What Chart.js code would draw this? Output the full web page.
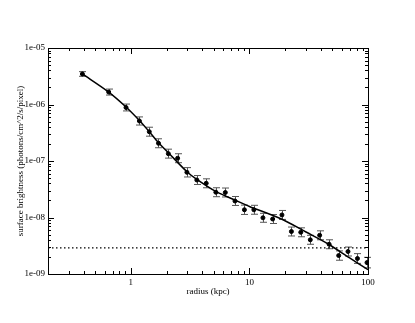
<!DOCTYPE html>
<html>
<head>
<meta charset="utf-8">
<script src="https://cdn.jsdelivr.net/npm/chart.js@4.4.1/dist/chart.umd.min.js"></script>
<style>
  html, body { margin: 0; padding: 0; background: #fff; }
  #wrap { width: 415px; height: 323px; }
</style>
</head>
<body>
<div id="wrap"><canvas id="sbChart" width="415" height="323"></canvas></div>
<script>
// radial surface brightness profile
const radius = [0.39, 0.65, 0.91, 1.18, 1.43, 1.71, 2.07, 2.48, 2.97, 3.6, 4.32, 5.21, 6.26, 7.55,
                9.07, 10.9, 13.0, 15.7, 18.8, 22.6, 27.1, 32.6, 39.1, 47.0, 56.6, 67.8, 81.5, 98.1];
const brightness = [3.47e-6, 1.66e-6, 8.85e-7, 5.11e-7, 3.30e-7, 2.06e-7, 1.35e-7, 1.12e-7, 6.31e-8,
                    4.61e-8, 4.03e-8, 2.80e-8, 2.77e-8, 1.96e-8, 1.37e-8, 1.37e-8, 9.88e-9, 9.40e-9,
                    1.11e-8, 5.65e-9, 5.47e-9, 4.03e-9, 4.84e-9, 3.36e-9, 2.12e-9, 2.50e-9, 1.88e-9, 1.59e-9];
// relative error on each point
const relErr = [0.1, 0.13, 0.15, 0.18, 0.2, 0.2, 0.2, 0.2, 0.21, 0.2, 0.2, 0.2, 0.2, 0.2,
                0.21, 0.2, 0.2, 0.2, 0.2, 0.2, 0.2, 0.2, 0.2, 0.2, 0.21, 0.2, 0.22, 0.24];

// fitted model
const fitRadius = [0.39, 0.65, 0.91, 1.18, 1.43, 1.71, 2.07, 2.97, 3.6, 5.25, 7.61, 10, 18.8, 30, 46.6, 70, 100];
const fitBrightness = [3.47e-6, 1.66e-6, 9.04e-7, 5.21e-7, 3.30e-7, 2.11e-7, 1.40e-7, 6.47e-8, 4.74e-8,
                       2.86e-8, 2.02e-8, 1.57e-8, 9.3e-9, 5.53e-9, 3.36e-9, 1.92e-9, 1.19e-9];

// background level
const bgLevel = 2.9e-9;

const xRange = [0.2, 100];
const yRange = [1e-9, 1e-5];
const xMajorTicks = [1, 10, 100];
const yMajorTicks = [1e-9, 1e-8, 1e-7, 1e-6, 1e-5];

const xMinorTicks = [];
[0.1, 1, 10].forEach(d => { for (let k = 2; k <= 9; k++) xMinorTicks.push(k * d); });
const yMinorTicks = [];
[1e-9, 1e-8, 1e-7, 1e-6].forEach(d => { for (let k = 2; k <= 9; k++) yMinorTicks.push(k * d); });

const serif = '"Liberation Serif", "DejaVu Serif", serif';

function expLabel(v) {
    const e = Math.round(Math.log10(v));
    return '1e' + (e < 0 ? '-' : '+') + String(Math.abs(e)).padStart(2, '0');
}

const errorBars = {
    id: 'errorBars',
    beforeDatasetsDraw(chart) {
        const {ctx, scales: {x, y}} = chart;
        ctx.save();
        ctx.strokeStyle = '#555';
        ctx.lineWidth = 1;
        radius.forEach((r, i) => {
            const px = Math.round(x.getPixelForValue(r)) + 0.5;
            const top = y.getPixelForValue(brightness[i] * (1 + relErr[i]));
            const bot = y.getPixelForValue(brightness[i] / (1 + relErr[i]));
            ctx.beginPath();
            ctx.moveTo(px, top); ctx.lineTo(px, bot);
            ctx.moveTo(px - 3.5, top); ctx.lineTo(px + 3.5, top);
            ctx.moveTo(px - 3.5, bot); ctx.lineTo(px + 3.5, bot);
            ctx.stroke();
        });
        ctx.restore();
    }
};

// box frame with inward ticks on all four sides
const frameTicks = {
    id: 'frameTicks',
    afterDraw(chart) {
        const {ctx, chartArea: a, scales: {x, y}} = chart;
        ctx.save();
        ctx.strokeStyle = '#000';
        ctx.lineWidth = 1;
        ctx.strokeRect(a.left + 0.5, a.top + 0.5, a.right - a.left, a.bottom - a.top);
        ctx.beginPath();
        const xt = (vals, len) => vals.forEach(v => {
            const px = Math.round(x.getPixelForValue(v)) + 0.5;
            ctx.moveTo(px, a.bottom); ctx.lineTo(px, a.bottom - len);
            ctx.moveTo(px, a.top); ctx.lineTo(px, a.top + len);
        });
        const yt = (vals, len) => vals.forEach(v => {
            const py = Math.round(y.getPixelForValue(v)) + 0.5;
            ctx.moveTo(a.left, py); ctx.lineTo(a.left + len, py);
            ctx.moveTo(a.right, py); ctx.lineTo(a.right - len, py);
        });
        xt(xMajorTicks, 6); xt(xMinorTicks, 3);
        yt(yMajorTicks, 6); yt(yMinorTicks, 3);
        ctx.stroke();
        ctx.restore();
    }
};

new Chart(document.getElementById('sbChart'), {
    type: 'scatter',
    data: {
        datasets: [{
            label: 'data',
            data: radius.map((r, i) => ({x: r, y: brightness[i]})),
            backgroundColor: '#000',
            borderColor: '#000',
            pointRadius: 2,
            showLine: false
        }, {
            label: 'fit',
            data: fitRadius.map((r, i) => ({x: r, y: fitBrightness[i]})),
            borderColor: '#000',
            borderWidth: 1.5,
            pointRadius: 0,
            showLine: true,
            tension: 0.3
        }, {
            label: 'background',
            data: [{x: xRange[0], y: bgLevel}, {x: xRange[1], y: bgLevel}],
            borderColor: '#000',
            borderWidth: 1.2,
            borderDash: [1.5, 2.5],
            pointRadius: 0,
            showLine: true
        }]
    },
    options: {
        responsive: false,
        animation: false,
        devicePixelRatio: 1,
        layout: {padding: {left: 0, top: 48, right: 47, bottom: 0}},
        plugins: {legend: {display: false}, tooltip: {enabled: false}},
        scales: {
            x: {
                type: 'logarithmic',
                min: xRange[0],
                max: xRange[1],
                afterBuildTicks: s => { s.ticks = xMajorTicks.map(v => ({value: v})); },
                afterFit: s => { s.height = 49; },
                grid: {display: false, drawTicks: false},
                border: {display: false},
                ticks: {
                    color: '#000', padding: 3, maxRotation: 0, autoSkip: false,
                    font: {family: serif, size: 9},
                    callback: v => String(v)
                },
                title: {
                    display: true, text: 'radius (kpc)', color: '#000',
                    font: {family: serif, size: 9}, padding: {top: 0, bottom: 26}
                }
            },
            y: {
                type: 'logarithmic',
                min: yRange[0],
                max: yRange[1],
                afterBuildTicks: s => { s.ticks = yMajorTicks.map(v => ({value: v})); },
                afterFit: s => { s.width = 48; },
                grid: {display: false, drawTicks: false},
                border: {display: false},
                ticks: {
                    color: '#000', padding: 3, autoSkip: false,
                    font: {family: serif, size: 9},
                    callback: v => expLabel(v)
                },
                title: {
                    display: true, text: 'surface brightness (photons/cm^2/s/pixel)', color: '#000',
                    font: {family: serif, size: 9}, padding: {top: 15, bottom: 0}
                }
            }
        }
    },
    plugins: [errorBars, frameTicks]
});
</script>
</body>
</html>
